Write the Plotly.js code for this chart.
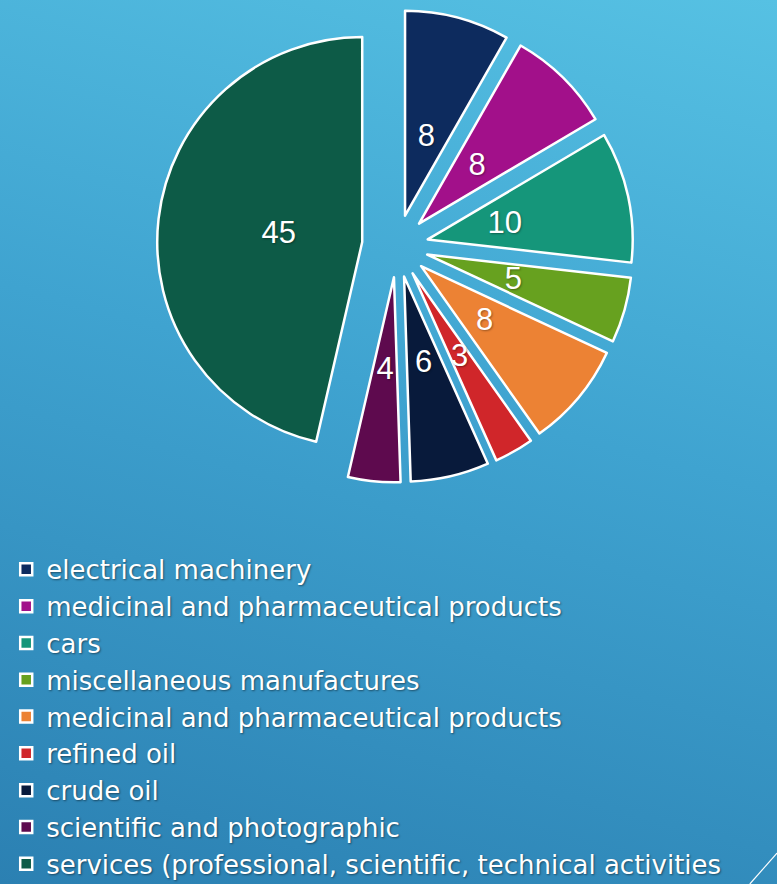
<!DOCTYPE html>
<html>
<head>
<meta charset="utf-8">
<script src="https://cdn.plot.ly/plotly-3.0.1.min.js"></script>
<style>
  html, body { margin: 0; padding: 0; width: 777px; height: 884px; overflow: hidden; }
  body { background: linear-gradient(195deg, #56c1e3 0%, #3fa3d0 45%, #2b80b2 100%); }
  #chart { width: 777px; height: 884px; }
</style>
</head>
<body>
<div id="chart"></div>
<script>
// Data
const categories = [
  "electrical machinery",
  "medicinal and pharmaceutical products",
  "cars",
  "miscellaneous manufactures",
  "medicinal and pharmaceutical products",
  "refined oil",
  "crude oil",
  "scientific and photographic",
  "services (professional, scientific, technical activities"
];
const values = [8, 8, 10, 5, 8, 3, 6, 4, 45];
const sliceColors = ["#0d2b5e", "#a2108a", "#15967a", "#67a11f", "#ec8234", "#d0262a", "#081a3b", "#5e0a4e", "#0d5b47"];

// Pie labels must be unique for Plotly: append zero-width spaces to duplicates
const seen = {};
const uniqueLabels = categories.map(c => {
  seen[c] = (seen[c] || 0) + 1;
  return c + "\u200b".repeat(seen[c] - 1);
});

// Geometry (pixels): slice radius, pull offsets, centre
const W = 777, H = 884;
const R = 205, CX = 397, CY = 246;
const pullPx = 31.4, bigPullPx = 35;
const bigIndex = values.indexOf(Math.max(...values));

function domainFor(r, maxPullFrac) {
  const half = r * (1 + maxPullFrac);
  return {
    x: [(CX - half) / W, (CX + half) / W],
    y: [(H - (CY + half)) / H, (H - (CY - half)) / H]
  };
}

const labelFont = { family: "Liberation Sans, Arial, sans-serif", size: 31, color: "#ffffff", shadow: "1px 1px 2px rgba(0,0,0,0.35)" };

function pieTrace(r, pullFor, textFor, visibleSlices) {
  const pulls = values.map((v, i) => pullFor(i) / r);
  return {
    type: "pie",
    labels: uniqueLabels,
    values: values,
    text: values.map((v, i) => textFor(i) ? String(v) : ""),
    textinfo: "text",
    sort: false,
    direction: "clockwise",
    rotation: 0,
    pull: pulls,
    textposition: "inside",
    insidetextorientation: "horizontal",
    insidetextfont: labelFont,
    marker: visibleSlices
      ? { colors: sliceColors, line: { color: "#ffffff", width: 2.5 } }
      : { colors: values.map(() => "rgba(0,0,0,0)"), line: { width: 0 } },
    domain: domainFor(r, Math.max(...pulls)),
    showlegend: visibleSlices,
    hoverinfo: visibleSlices ? "label+value" : "skip"
  };
}

const pullOf = i => (i === bigIndex ? bigPullPx : pullPx);

// Main pie: all slices, no labels
const mainTrace = pieTrace(R, pullOf, () => false, true);
// Label pies: same data on smaller radii so the value labels sit mid-slice
const smallLabels = pieTrace(104, pullOf, i => i !== bigIndex, false);
const bigLabel = pieTrace(167.5, pullOf, i => i === bigIndex, false);

const layout = {
  width: W,
  height: H,
  margin: { l: 0, r: 0, t: 0, b: 0, autoexpand: false },
  paper_bgcolor: "rgba(0,0,0,0)",
  plot_bgcolor: "rgba(0,0,0,0)",
  showlegend: true,
  uniformtext: { minsize: 31, mode: "show" },
  legend: {
    x: 0.008, xanchor: "left",
    y: 0.3824, yanchor: "top",
    bgcolor: "rgba(0,0,0,0)",
    borderwidth: 0,
    traceorder: "normal",
    font: { family: "DejaVu Sans, sans-serif", size: 26, color: "#ffffff", shadow: "1px 1px 2px rgba(0,0,0,0.45)" }
  },
  shapes: [
    { type: "line", xref: "paper", yref: "paper", x0: 0.965, y0: 0, x1: 1.0, y1: 0.035,
      line: { color: "#ffffff", width: 1.2 } }
  ]
};

Plotly.newPlot("chart", [mainTrace, smallLabels, bigLabel], layout, { displayModeBar: false, staticPlot: true });
</script>
</body>
</html>
